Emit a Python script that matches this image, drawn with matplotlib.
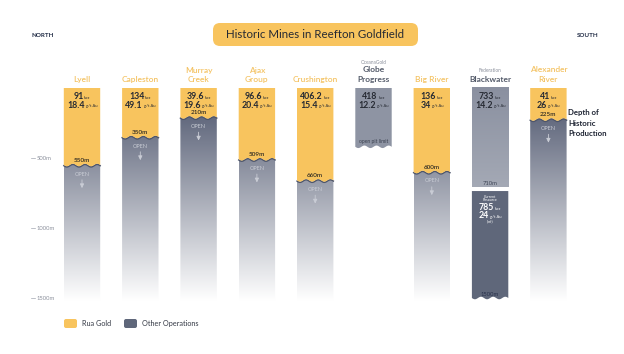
import numpy as np
import matplotlib
matplotlib.use("Agg")
import matplotlib.pyplot as plt
from matplotlib.colors import to_rgb
from matplotlib.patches import FancyBboxPatch, Polygon

plt.rcParams["font.family"] = ["Lato", "DejaVu Sans"]

# data
mines = [["Lyell"], ["Capleston"], ["Murray", "Creek"], ["Ajax", "Group"], ["Crushington"],
         ["Globe", "Progress"], ["Big River"], ["Blackwater"], ["Alexander", "River"]]
owners = ["", "", "", "", "", "OceanaGold", "", "Federation", ""]
rua_gold = [True, True, True, True, True, False, True, False, True]
koz = ["91", "134", "39.6", "96.6", "406.2", "418", "136", "733", "41"]
grade = ["18.4", "49.1", "19.6", "20.4", "15.4", "12.2", "34", "14.2", "26"]
depth_m = [550, 350, 210, 509, 660, 420, 600, 710, 225]
depth_labels = ["550m", "350m", "210m", "509m", "660m", "open pit limit", "600m", "710m", "225m"]
resource_koz = "785"
resource_grade = "24"
resource_bottom = 1500
tick_depths = [500, 1000, 1500]
legend_labels = ["Rua Gold", "Other Operations"]

GOLD = "#F8C45E"
GOLD_TEXT = "#F4C364"
SLATE = "#5F677A"
GREY = "#8E94A3"
INK = "#262A33"

W, H = 624, 354
Y0, SCALE = 88, 0.14  # pixel row of 0 m and pixels per metre


def depth_at(row):
    return (row - Y0) / SCALE


fig = plt.figure(figsize=(W / 100, H / 100), dpi=100)
ax = fig.add_axes([0, 0, 1, 1])
ax.set_xlim(0, W)
ax.set_ylim(depth_at(H), depth_at(0))
ax.axis("off")
lay = fig.add_axes([0, 0, 1, 1], zorder=5)
lay.set_xlim(0, W)
lay.set_ylim(H, 0)
lay.axis("off")
renderer = fig.canvas.get_renderer()

centers = 82 + 58.3 * np.arange(len(mines))
half = 18.2
fade_end = 1520


def ramp(c0, c1, n=300):
    f = np.linspace(0, 1, n)[:, None]
    return (np.array(to_rgb(c0)) * (1 - f) + np.array(to_rgb(c1)) * f)[:, None, :]


open_img = ramp("#4A526A", "#FFFFFF")
grey_img = ramp("#8A90A0", "#A4A9B5")


def wave(x0, x1, d, amp=9, n=3):
    xs = np.linspace(x0, x1, 80)
    return xs, d + amp * np.sin(2 * np.pi * n * (xs - x0) / (x1 - x0))


def pair(x, y, big, small, color, big_size=6.3, small_size=3.0, gap=0.6):
    t1 = ax.text(x, y, big, fontsize=big_size, fontweight="bold", color=color, ha="left", va="baseline", zorder=4)
    t2 = ax.text(x, y, small, fontsize=small_size, color=color, ha="left", va="baseline", zorder=4)
    w1 = t1.get_window_extent(renderer).width
    w2 = t2.get_window_extent(renderer).width
    start = x - (w1 + w2 + gap) / 2
    t1.set_x(start)
    t2.set_x(start + w1 + gap)


px = 1 / SCALE  # one pixel in metres

for i, x in enumerate(centers):
    x0, x1 = x - half, x + half
    d = depth_m[i]
    if rua_gold[i]:
        xs, ys = wave(x0, x1, d)
        below = Polygon(list(zip(xs, ys)) + [(x1, fade_end), (x0, fade_end)], closed=True,
                        transform=ax.transData)
        im = ax.imshow(open_img, extent=(x0, x1, fade_end, 0), aspect="auto", origin="upper", zorder=1)
        im.set_clip_path(below)
        ax.plot(xs, ys + 0.7 * px, color="#4D556B", lw=1.0, zorder=2)
        ax.add_patch(Polygon(list(zip([x0, x1], [0, 0]))
                             + list(zip(xs[::-1], ys[::-1])), closed=True, fc=GOLD, ec="none", zorder=3))
        ax.text(x, d - 3 * px, depth_labels[i], fontsize=4.6, fontweight="semibold", color="#2E2A22",
                ha="center", va="baseline", zorder=4)
        ax.text(x, d + 9 * px, "OPEN", fontsize=4, color="#C9CCD5", ha="center", va="center", zorder=4)
        ax.annotate("", xy=(x, d + 26 * px), xytext=(x, d + 12 * px), zorder=4,
                    arrowprops=dict(arrowstyle="-|>,head_width=0.12,head_length=0.25",
                                    color="#C9CCD5", lw=0.6))
        title_col, title_w = GOLD_TEXT, "semibold"
    elif owners[i] == "OceanaGold":
        xs, ys = wave(x0, x1, d)
        ax.add_patch(Polygon(list(zip([x0, x1], [0, 0]))
                             + list(zip(xs[::-1], ys[::-1])), closed=True, fc=GREY, ec="none", zorder=3))
        ax.text(x, d - 4 * px, depth_labels[i], fontsize=3.6, color="#3A404E",
                ha="center", va="baseline", zorder=4)
        title_col, title_w = "#545B6A", "bold"
    else:
        gap_top = d + 26
        ax.imshow(grey_img, extent=(x0, x1, d, 0), aspect="auto", origin="upper", zorder=3)
        ax.text(x, d - 2.5 * px, depth_labels[i], fontsize=4.2, color="#3F4656",
                ha="center", va="baseline", zorder=4)
        xs, ys = wave(x0, x1, resource_bottom)
        ax.add_patch(Polygon(list(zip([x0, x1], [gap_top, gap_top]))
                             + list(zip(xs[::-1], ys[::-1])), closed=True, fc=SLATE, ec="none", zorder=3))
        ax.text(x, depth_at(197.5), "Current", fontsize=2.6, color="white", ha="center", va="baseline", zorder=4)
        ax.text(x, depth_at(201), "Resource", fontsize=2.6, color="white", ha="center", va="baseline", zorder=4)
        pair(x, depth_at(209.5), resource_koz, "koz", "white")
        pair(x, depth_at(218), resource_grade, "g/t Au", "white", gap=1.2)
        ax.text(x, depth_at(222.5), "(Inf)", fontsize=2.8, color="white", ha="center", va="baseline", zorder=4)
        ax.text(x, resource_bottom - 2.5 * px, f"{resource_bottom}m", fontsize=4.2, color="#27304A",
                ha="center", va="baseline", zorder=4)
        title_col, title_w = "#545B6A", "bold"

    pair(x, depth_at(99), koz[i], "koz", INK)
    pair(x, depth_at(107.5), grade[i], "g/t Au", INK, gap=1.2)

    lines = mines[i]
    rows = [82] if len(lines) == 1 else [72.5, 82]
    for line, r in zip(lines, rows):
        ax.text(x, depth_at(r), line, fontsize=6, fontweight=title_w, color=title_col,
                ha="center", va="baseline")
    if owners[i]:
        r = 63.5 if len(lines) == 2 else 72.5
        ax.text(x, depth_at(r), owners[i], fontsize=3.4, color="#8A8F9B", ha="center", va="baseline")

ax.set_xlim(0, W)
ax.set_ylim(depth_at(H), depth_at(0))

for t in tick_depths:
    ax.plot([31, 35], [t, t], color="#A3A7B2", lw=0.5)
    ax.text(37, t, f"{t}m", fontsize=4.2, color="#8A8F9B", ha="left", va="center")

# title, compass labels, legend
lay.add_patch(FancyBboxPatch((213, 23), 205, 23, boxstyle="round,pad=0,rounding_size=7",
                             fc=GOLD, ec="none"))
lay.text(315.5, 35, "Historic Mines in Reefton Goldfield", fontsize=8.3, color=INK,
         ha="center", va="center")
lay.text(31, 35.5, "NORTH", fontsize=4.5, fontweight="bold", color="#1F2A44", ha="left", va="center")
lay.text(577, 35.5, "SOUTH", fontsize=4.5, fontweight="bold", color="#1F2A44", ha="left", va="center")
for j, line in enumerate(["Depth of", "Historic", "Production"]):
    lay.text(568, 113 + 10 * j, line, fontsize=5.6, fontweight="bold", color="#1E2433",
             ha="left", va="center")

for x_box, x_txt, col, label in zip([64, 124], [82, 142], [GOLD, SLATE], legend_labels):
    lay.add_patch(FancyBboxPatch((x_box, 319), 13, 9, boxstyle="round,pad=0,rounding_size=2",
                                 fc=col, ec="none"))
    lay.text(x_txt, 323.5, label, fontsize=5.2, color="#333844", ha="left", va="center")

fig.savefig("out.png", dpi=100, facecolor="white")
